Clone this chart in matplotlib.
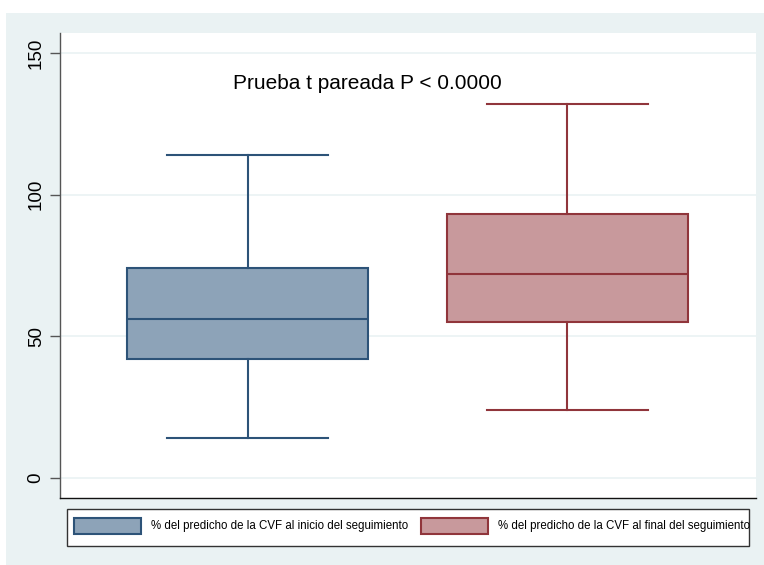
import matplotlib
matplotlib.use("Agg")
import matplotlib.pyplot as plt
from matplotlib.patches import Rectangle, Patch

plt.rcParams['font.family'] = ['Liberation Sans', 'DejaVu Sans']

# Five-number summaries (% predicted FVC)
labels = ["% del predicho de la CVF al inicio del seguimiento",
          "% del predicho de la CVF al final del seguimiento"]
whislo = [14, 24]
q1 = [42, 55]
med = [56, 72]
q3 = [74, 93]
whishi = [114, 132]
yticks = [0, 50, 100, 150]
annotation = "Prueba t pareada P < 0.0000"

fill_colors = ["#8DA3B8", "#C8999C"]
edge_colors = ["#2D5378", "#90353B"]
bg = "#EAF2F3"

W, H = 764, 565
fig = plt.figure(figsize=(W / 100, H / 100), dpi=100)
fig.patch.set_facecolor("white")

# Outer graph region
fig.patches.append(Rectangle((6 / W, 0), (W - 6) / W, (H - 13) / H,
                             transform=fig.transFigure, facecolor=bg,
                             edgecolor="none", zorder=-10))

ax = fig.add_axes([60 / W, 1 - 497.7 / H, (756 - 60) / W, (497.7 - 33) / H])
ax.set_facecolor("white")

stats = []
for i in range(len(labels)):
    stats.append(dict(label=labels[i], whislo=whislo[i], q1=q1[i], med=med[i],
                      q3=q3[i], whishi=whishi[i], fliers=[]))

positions = [1, 2]
for i, s in enumerate(stats):
    ec = edge_colors[i]
    ax.bxp([s], positions=[positions[i]], widths=0.753, capwidths=0.504,
           patch_artist=True, showfliers=False,
           boxprops=dict(facecolor=fill_colors[i], edgecolor=ec, linewidth=1.5),
           medianprops=dict(color=ec, linewidth=1.5),
           whiskerprops=dict(color=ec, linewidth=1.5),
           capprops=dict(color=ec, linewidth=1.5),
           zorder=3)

ax.set_xlim(0.413, 2.590)
ax.set_ylim(-7.06, 157.1)
ax.set_xticks([])
ax.set_yticks(yticks)
ax.set_yticklabels([str(t) for t in yticks], rotation=90, va="center",
                   fontsize=13.5)
ax.tick_params(axis="y", length=7, width=1.0, color="#555555", pad=4)
ax.yaxis.grid(True, color=bg, linewidth=1.2)
ax.set_axisbelow(True)

for side in ["top", "right"]:
    ax.spines[side].set_visible(False)
ax.spines["left"].set_color("#555555")
ax.spines["left"].set_linewidth(1.0)
ax.spines["bottom"].set_color("#111111")
ax.spines["bottom"].set_linewidth(1.0)

ax.text(1.375, 139.3, annotation, ha="center", va="center", fontsize=15)

# Legend frame and entries
fig.patches.append(Rectangle((66.7 / W, 1 - 546 / H), (749 - 66.7) / W,
                             (546 - 509.3) / H, transform=fig.transFigure,
                             facecolor="white", edgecolor="#333333",
                             linewidth=1.0, zorder=5))
fs = 8.3
em = fs * 100 / 72
handles = [Patch(facecolor=fill_colors[i], edgecolor=edge_colors[i],
                 linewidth=1.5, label=labels[i]) for i in range(2)]
leg = fig.legend(handles=handles, loc="upper left",
                 bbox_to_anchor=(74.3 / W, 1 - 517.7 / H), ncol=2,
                 frameon=False, fontsize=fs, borderpad=0, borderaxespad=0,
                 handlelength=67 / em, handleheight=20 / em,
                 handletextpad=10 / em, columnspacing=13 / em)
leg.set_zorder(6)

fig.savefig("out.png", dpi=100)
